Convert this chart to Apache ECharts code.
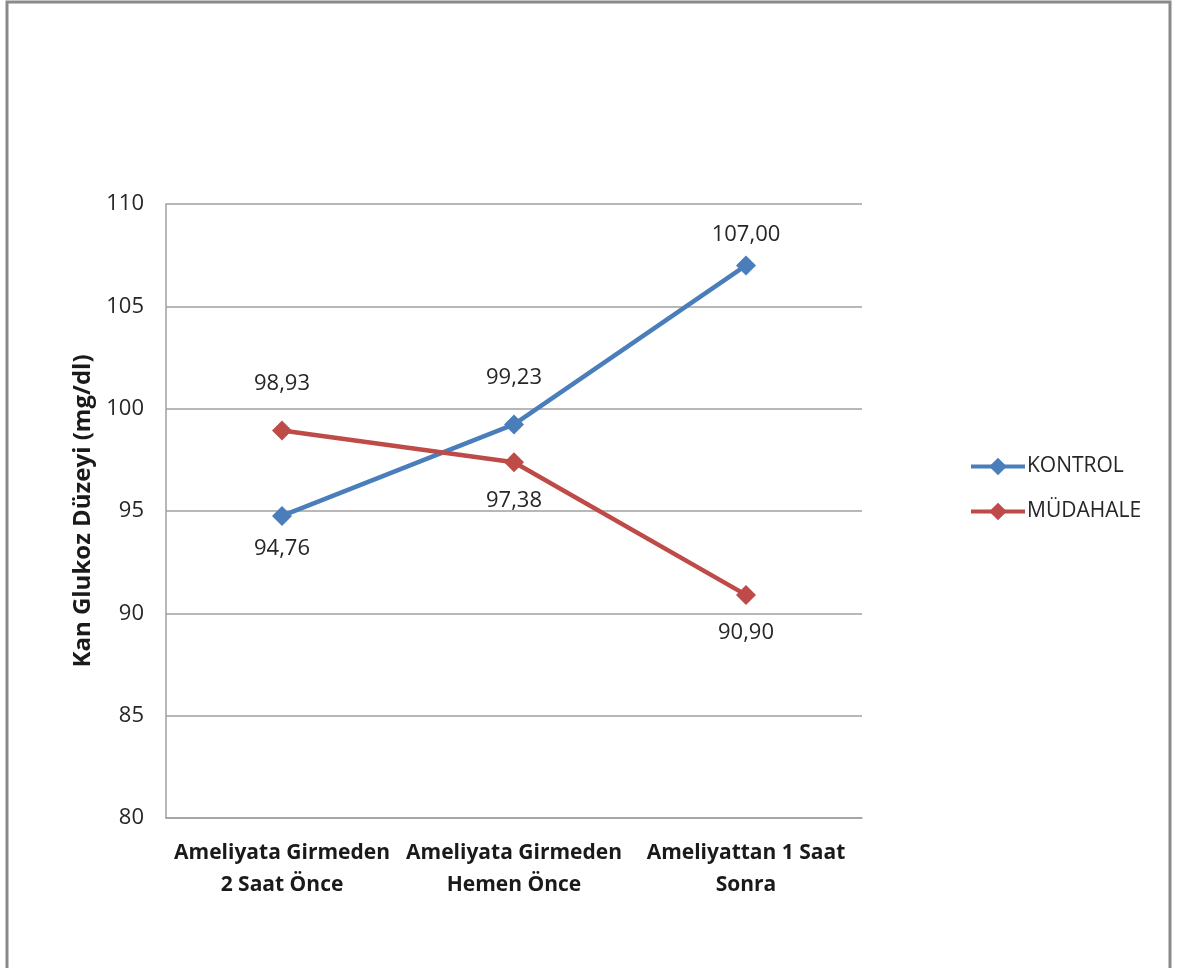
<!DOCTYPE html>
<html><head><meta charset="utf-8">
<script src="https://cdn.jsdelivr.net/npm/echarts@6/dist/echarts.min.js"></script>
<style>html,body{margin:0;padding:0;background:#fff;}#c{width:1179px;height:968px;}</style>
</head><body><div id="c"></div>
<script>
const categories = ['Ameliyata Girmeden\n2 Saat Önce', 'Ameliyata Girmeden\nHemen Önce', 'Ameliyattan 1 Saat\nSonra'];
const kontrol = [94.76, 99.23, 107.00];
const mudahale = [98.93, 97.38, 90.90];
const seriesNames = ['KONTROL', 'MÜDAHALE'];
// label placement (style only)
const kontrolLabelPos = ['bottom', 'top', 'top'];
const kontrolLabelDist = [12, 26, 10];
const mudahaleLabelPos = ['top', 'bottom', 'bottom'];
const mudahaleLabelDist = [26, 17, 17];
const FONT = 'Open Sans';

function mk(vals, pos, dist) {
  return vals.map((v, i) => ({ value: v, label: { position: pos[i], distance: dist[i] } }));
}
const chart = echarts.init(document.getElementById('c'), null, { renderer: 'canvas' });
const fmt = p => p.value.toFixed(2).replace('.', ',');
const labelCommon = { show: true, formatter: fmt, fontFamily: FONT, fontSize: 22, color: '#262626' };
chart.setOption({
  animation: false,
  backgroundColor: '#fff',
  graphic: [{ type: 'rect', shape: { x: 7, y: 2, width: 1163, height: 980 }, style: { fill: 'none', stroke: '#8a8a8a', lineWidth: 3 } }],
  grid: { left: 166, right: 1179 - 862, top: 204, bottom: 968 - 818 },
  legend: {
    orient: 'vertical', left: 964, top: 451, itemGap: 24, itemWidth: 54, itemHeight: 22,
    data: seriesNames,
    lineStyle: { width: 4 },
    textStyle: { fontFamily: FONT, fontSize: 21, color: '#262626', padding: [0, 0, 0, -3] }
  },
  xAxis: {
    type: 'category', data: categories, boundaryGap: true,
    axisLine: { lineStyle: { color: '#a0a0a0', width: 1.5 } },
    axisTick: { show: false },
    axisLabel: { fontFamily: FONT, fontWeight: 'bold', fontSize: 21, color: '#1a1a1a', lineHeight: 32, margin: 19, interval: 0 }
  },
  yAxis: {
    type: 'value', min: 80, max: 110, interval: 5,
    name: 'Kan Glukoz Düzeyi (mg/dl)', nameLocation: 'middle', nameGap: 65,
    nameTextStyle: { fontFamily: FONT, fontWeight: 'bold', fontSize: 24, color: '#1a1a1a' },
    axisLine: { show: true, lineStyle: { color: '#a0a0a0', width: 1.5 } },
    axisTick: { show: false },
    axisLabel: { fontFamily: FONT, fontSize: 22, color: '#262626', margin: 22 },
    splitLine: { lineStyle: { color: '#a0a0a0', width: 1.5 } }
  },
  series: [
    { name: seriesNames[0], type: 'line', data: mk(kontrol, kontrolLabelPos, kontrolLabelDist), symbol: 'diamond', symbolSize: 20,
      lineStyle: { color: '#4a7ebb', width: 4.5 }, itemStyle: { color: '#4a7ebb' }, label: labelCommon },
    { name: seriesNames[1], type: 'line', data: mk(mudahale, mudahaleLabelPos, mudahaleLabelDist), symbol: 'diamond', symbolSize: 20,
      lineStyle: { color: '#be4b48', width: 4.5 }, itemStyle: { color: '#be4b48' }, label: labelCommon }
  ]
});
</script></body></html>
